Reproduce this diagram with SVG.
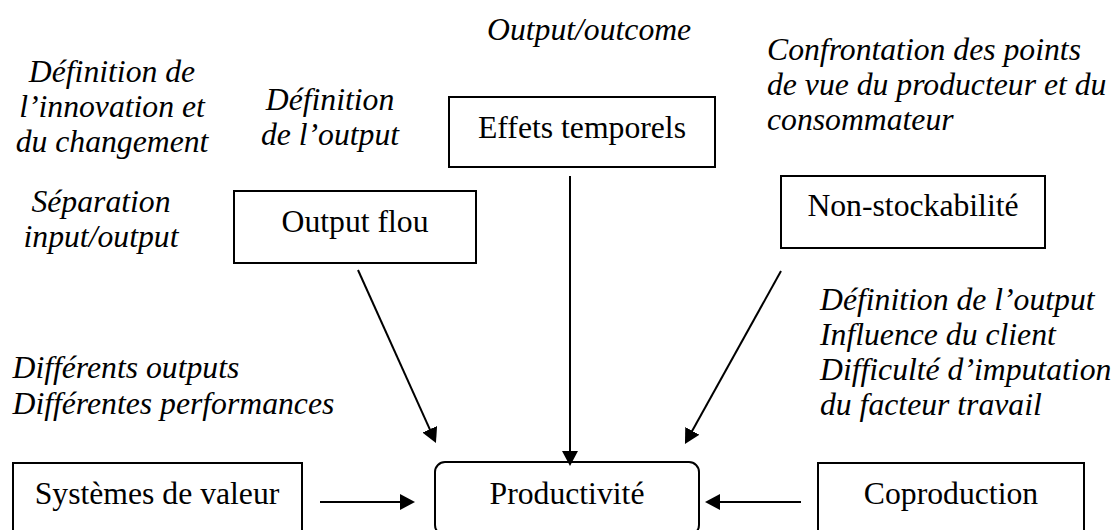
<svg xmlns="http://www.w3.org/2000/svg" width="1116" height="530" viewBox="0 0 1116 530">
  <style>
    .box { fill: #ffffff; stroke: #000000; stroke-width: 2; }
    .lbl { font-family: "Liberation Serif", "Times New Roman", serif; font-size: 31.7px; fill: #000000; }
    .note { font-family: "Liberation Serif", "Times New Roman", serif; font-size: 31.7px; font-style: italic; fill: #000000; }
    .mid { text-anchor: middle; }
    .conn { stroke: #000000; stroke-width: 2; fill: none; marker-end: url(#arrow); }
  </style>
  <defs>
    <marker id="arrow" markerUnits="userSpaceOnUse" markerWidth="16" markerHeight="16" refX="10" refY="8" orient="auto">
      <path d="M0,0 L15,8 L0,16 Z" fill="#000000"/>
    </marker>
  </defs>
  <rect width="1116" height="530" fill="#ffffff"/>

  <g id="notes">
    <text class="note" x="487" y="40">Output/outcome</text>
    <text class="note mid" x="112" y="82">Définition de</text>
    <text class="note mid" x="112" y="117">l’innovation et</text>
    <text class="note mid" x="112" y="152">du changement</text>
    <text class="note mid" x="330" y="110">Définition</text>
    <text class="note mid" x="330" y="145">de l’output</text>
    <text class="note mid" x="101" y="212">Séparation</text>
    <text class="note mid" x="101" y="247">input/output</text>
    <text class="note" x="767" y="60">Confrontation des points</text>
    <text class="note" x="767" y="95">de vue du producteur et du</text>
    <text class="note" x="767" y="130">consommateur</text>
    <text class="note" x="12.5" y="378">Différents outputs</text>
    <text class="note" x="12.5" y="414">Différentes performances</text>
    <text class="note" x="820" y="310">Définition de l’output</text>
    <text class="note" x="820" y="345">Influence du client</text>
    <text class="note" x="820" y="380">Difficulté d’imputation</text>
    <text class="note" x="820" y="415">du facteur travail</text>
  </g>

  <g id="effets">
    <rect class="box" x="449" y="97" width="266" height="70"/>
    <text class="lbl mid" x="582" y="138">Effets temporels</text>
  </g>
  <g id="outputflou">
    <rect class="box" x="234" y="191" width="242" height="72"/>
    <text class="lbl mid" x="355" y="232">Output flou</text>
  </g>
  <g id="nonstock">
    <rect class="box" x="781" y="176" width="264" height="72"/>
    <text class="lbl mid" x="913" y="216">Non-stockabilité</text>
  </g>
  <g id="systemes">
    <rect class="box" x="13" y="463" width="289" height="72"/>
    <text class="lbl mid" x="157" y="504">Systèmes de valeur</text>
  </g>
  <g id="productivite">
    <rect class="box" x="435" y="462" width="264" height="73" rx="10" ry="10"/>
    <text class="lbl mid" x="567" y="504">Productivité</text>
  </g>
  <g id="coproduction">
    <rect class="box" x="818" y="463" width="266" height="72"/>
    <text class="lbl mid" x="951" y="504">Coproduction</text>
  </g>

  <g id="connectors">
    <line class="conn" x1="570" y1="176" x2="570" y2="461"/>
    <line class="conn" x1="358" y1="270" x2="433.9" y2="438.4"/>
    <line class="conn" x1="781" y1="271" x2="687.4" y2="439.6"/>
    <line class="conn" x1="320" y1="502" x2="410" y2="502"/>
    <line class="conn" x1="801" y1="502" x2="710" y2="502"/>
  </g>
</svg>
